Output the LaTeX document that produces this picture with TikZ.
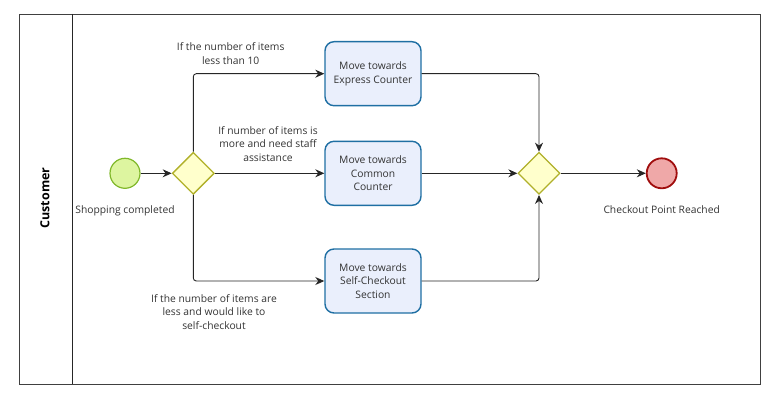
\documentclass[tikz,border=0pt]{standalone}
\usepackage{fontspec}
\setmainfont{Open Sans}
\usetikzlibrary{arrows.meta,shapes.geometric}
\definecolor{taskdraw}{HTML}{1F6FA3}
\definecolor{taskfill}{HTML}{EAEFFC}
\definecolor{gwdraw}{HTML}{B0B02A}
\definecolor{gwfill}{HTML}{FFFFCC}
\definecolor{stdraw}{HTML}{80B82A}
\definecolor{stfill}{HTML}{DDF5A0}
\definecolor{endraw}{HTML}{A00D0D}
\definecolor{enfill}{HTML}{EFA8A8}
\definecolor{txt}{HTML}{333333}
\begin{document}
\begin{tikzpicture}[x=1pt,y=-1pt,
  font=\fontsize{10.3}{13.8}\selectfont,
  task/.style={draw=taskdraw,fill=taskfill,line width=1.4pt,rounded corners=9pt,minimum width=96pt,minimum height=64pt,align=center,text=txt,inner sep=1pt},
  gw/.style={diamond,draw=gwdraw,fill=gwfill,line width=1.3pt,minimum width=42pt,minimum height=42pt,inner sep=0pt},
  startev/.style={circle,draw=stdraw,fill=stfill,line width=1.2pt,minimum size=30pt,inner sep=0pt},
  endev/.style={circle,draw=endraw,fill=enfill,line width=1.8pt,minimum size=30pt,inner sep=0pt},
  lbl/.style={align=center,text=txt,inner sep=0pt},
  flow/.style={draw=black!85,line width=0.9pt,rounded corners=3pt,-{Stealth[length=9pt,width=8pt]}}]
\useasboundingbox (0,0) rectangle (780,404);
% pool and lane
\node[draw=black!75,line width=0.9pt,minimum width=741.7pt,minimum height=370pt,inner sep=0pt] (pool) at (389.85,199) {};
\coordinate (lanetop) at (72.7,14);
\coordinate (lanebot) at (72.7,384);
\draw[black!85,line width=0.9pt] (lanetop) -- (lanebot);
\node[rotate=90,font=\fontsize{12.5}{14}\selectfont\bfseries] (lane) at (45,198) {Customer};
% nodes
\node[startev] (start) at (125,173.3) {};
\node[gw] (g1) at (193.3,173.3) {};
\node[task] (t1) at (373,73.7) {Move towards\\Express Counter};
\node[task] (t2) at (373,173.3) {Move towards\\Common\\Counter};
\node[task] (t3) at (373,281) {Move towards\\Self-Checkout\\Section};
\node[gw] (g2) at (539,173.3) {};
\node[endev] (end) at (661.7,173.3) {};
% labels
\node[lbl] (lstart) at (125,210.7) {Shopping completed};
\node[lbl] (lend) at (661.7,209.3) {Checkout Point Reached};
\node[lbl] (l1) at (230.7,53.7) {If the number of items\\less than 10};
\node[lbl] (l2) at (268,144) {If number of items is\\more and need staff\\assistance};
\node[lbl] (l3) at (214,312) {If the number of items are\\less and would like to\\self-checkout};
% flows
\draw[flow] (start) -- (g1);
\draw[flow] (g1.north) |- (t1.west);
\draw[flow] (g1.east) -- (t2.west);
\draw[flow] (g1.south) |- (t3.west);
\draw[flow] (t1.east) -| (g2.north);
\draw[flow] (t2.east) -- (g2.west);
\draw[flow] (t3.east) -| (g2.south);
\draw[flow] (g2.east) -- (end);
\end{tikzpicture}
\end{document}
